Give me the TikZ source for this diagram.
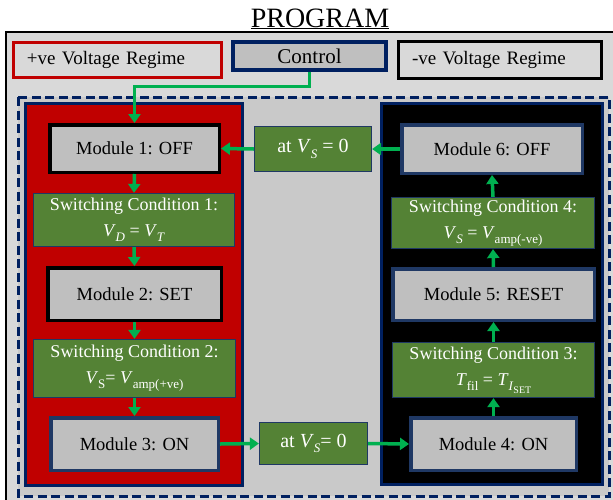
\documentclass[tikz,border=0pt]{standalone}
\usepackage{fontspec}
\setmainfont{Liberation Serif}
\usetikzlibrary{arrows.meta,shadows}
\definecolor{navy}{HTML}{002060}
\definecolor{boxnavy}{HTML}{1F3864}
\definecolor{condgreen}{HTML}{548235}
\definecolor{arrgreen}{HTML}{00B050}
\definecolor{panelred}{HTML}{C00000}
\definecolor{modgray}{HTML}{BFBFBF}
\definecolor{outergray}{HTML}{D9D9D9}
\definecolor{innergray}{HTML}{C9C9C9}
\newcommand{\lowsub}[1]{\raisebox{-0.28em}{\fontsize{13}{13}\selectfont #1}}
\newcommand{\lowsubsub}[1]{\raisebox{-0.25em}{\fontsize{10}{10}\selectfont #1}}
\tikzset{
  box/.style={rectangle, inner sep=0pt, align=center},
  module/.style={box, fill=modgray, line width=3.5pt, font=\fontsize{18.5}{22}\selectfont,
    drop shadow={opacity=0.35, shadow xshift=1.5pt, shadow yshift=-1.5pt}},
  modblack/.style={module, draw=black},
  modnavy/.style={module, draw=boxnavy},
  cond/.style={box, fill=condgreen, draw=boxnavy, line width=1.2pt, text=white, font=\fontsize{18}{26}\selectfont},
  atbox/.style={cond, font=\fontsize{20}{24}\selectfont},
  regbox/.style={box, fill=outergray, line width=3pt, font=\fontsize{19}{22}\selectfont, align=left},
  arr/.style={draw=arrgreen, line width=3.5pt, -{Triangle[length=9pt,width=12pt]}},
  ctrlline/.style={draw=arrgreen, line width=3pt, -{Triangle[length=9pt,width=12pt]}},
}
\begin{document}
\begin{tikzpicture}[x=1pt,y=-1pt]
\useasboundingbox (0,0) rectangle (613,499);
\fill[white] (0,0) rectangle (613,499);
\begin{scope}
\clip (0,0) rectangle (613,499);
\draw[line width=1.5pt, fill=outergray] (6,32) rectangle (618,505);
\end{scope}
\node[inner sep=0pt, anchor=base, font=\fontsize{28}{30}\selectfont] (title) at (320,27) {\underline{PROGRAM}};

\node[regbox, draw=panelred, minimum width=208, minimum height=35, text width=181] (pos) at (117.5,60) {+ve Voltage Regime};
\node[box, fill=modgray, draw=navy, line width=3.5pt, minimum width=153, minimum height=28, font=\fontsize{21}{24}\selectfont,
  drop shadow={opacity=0.35, shadow xshift=1.5pt, shadow yshift=-1.5pt}] (ctrl) at (309.5,56) {Control};
\node[regbox, draw=black, minimum width=203, minimum height=37, text width=176] (neg) at (500,60) {-ve Voltage Regime};

\draw[navy, line width=3pt, dash pattern=on 9pt off 4.5pt, fill=innergray] (18,97) rectangle (609,496);
\draw[navy, line width=3pt, fill=panelred] (25,103) rectangle (242,485);
\draw[navy, line width=3pt, fill=black] (381,103) rectangle (602,484);

\node[modblack, minimum width=169.5, minimum height=47.5] (m1) at (134.5,148.5) {Module 1: OFF};
\node[cond, minimum width=201, minimum height=53] (sc1) at (134,220) {Switching Condition 1:\\ \textit{V}\lowsub{\textit{D}} = \textit{V}\lowsub{\textit{T}}};
\node[modblack, minimum width=173.5, minimum height=52.5] (m2) at (134.5,294) {Module 2: SET};
\node[cond, minimum width=202, minimum height=58] (sc2) at (134.5,368.5) {Switching Condition 2:\\ \textit{V}\lowsub{S}= \textit{V}\lowsub{amp(+ve)}};
\node[modnavy, minimum width=167.5, minimum height=52.5] (m3) at (134.5,444) {Module 3: ON};

\node[atbox, minimum width=108, minimum height=42] (atb) at (313.5,443.5) {at \textit{V}\lowsub{\textit{S}}= 0};
\node[atbox, minimum width=117, minimum height=45] (att) at (313,149) {at \textit{V}\lowsub{\textit{S}} = 0};

\node[modnavy, minimum width=180.5, minimum height=48.5] (m6) at (492,149) {Module 6: OFF};
\node[cond, minimum width=203, minimum height=51] (sc4) at (493,223) {Switching Condition 4:\\ \textit{V}\lowsub{\textit{S}} = \textit{V}\lowsub{amp(-ve)}};
\node[modnavy, minimum width=201.5, minimum height=51.5] (m5) at (493.5,294.5) {Module 5: RESET};
\node[cond, minimum width=202, minimum height=55] (sc3) at (493.5,370) {Switching Condition 3:\\ \textit{T}\lowsub{fil} = \textit{T}\lowsub{\textit{I}\lowsubsub{SET}}};
\node[modnavy, minimum width=165.5, minimum height=52.5] (m4) at (493.5,444) {Module 4: ON};

\draw[ctrlline] (ctrl.south) -- ++(0,15) -| (m1.north);
\draw[arr] (m1.south) -- (sc1.north);
\draw[arr] (sc1.south) -- (m2.north);
\draw[arr] (m2.south) -- (sc2.north);
\draw[arr] (sc2.south) -- (m3.north);
\draw[arr] (m3.east) -- (atb.west);
\draw[arr] (atb.east) -- (m4.west);
\draw[arr] (m4.north) -- (sc3.south);
\draw[arr] (sc3.north) -- (m5.south);
\draw[arr] (m5.north) -- (sc4.south);
\draw[arr] (sc4.north) -- (m6.south);
\draw[arr] (m6.west) -- (att.east);
\draw[arr] (att.west) -- (m1.east);
\end{tikzpicture}
\end{document}
